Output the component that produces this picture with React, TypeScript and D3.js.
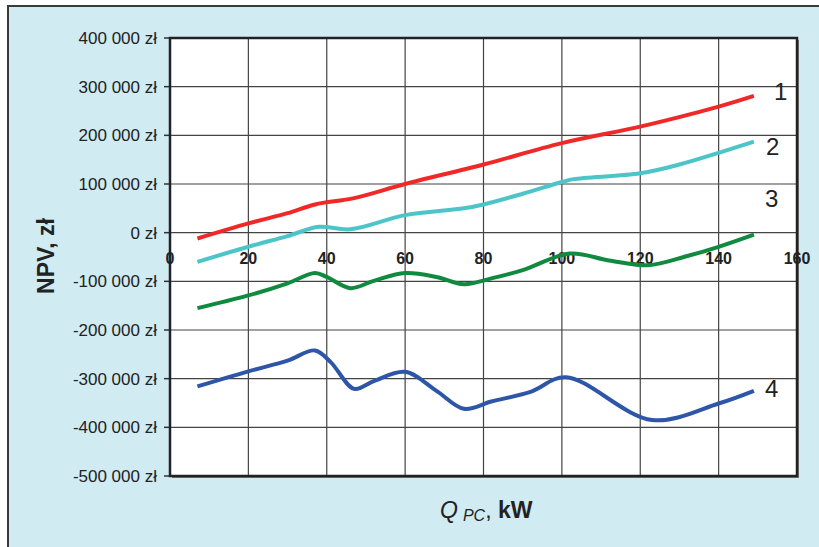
import React from "react";
import * as d3 from "d3";

// NPV [thousand zł] vs heat pump power Q_PC [kW]
const q1 = [7, 20, 30, 37, 47, 60, 80, 100, 120, 140, 149];
const npv1 = [-12, 19, 40, 58, 71, 100, 140, 184, 218, 259, 281];

const q2 = [7, 20, 30, 38, 46, 60, 75, 80, 90, 100, 103, 120, 130, 140, 149];
const npv2 = [-60, -29, -7, 12, 7, 36, 50, 58, 80, 104, 110, 122, 140, 164, 187];

const q3 = [7, 20, 30, 37, 40, 46, 52, 60, 68, 75, 82, 90, 102, 112, 122, 132, 140, 149];
const npv3 = [-155, -129, -104, -83, -91, -114, -99, -83, -91, -106, -94, -77, -43, -57, -67, -48, -29, -4];

const q4 = [7, 20, 30, 37, 41, 47, 52, 60, 68, 75, 82, 92, 101, 123, 140, 149];
const npv4 = [-316, -285, -263, -242, -266, -321, -305, -286, -325, -362, -347, -327, -297, -385, -351, -325];

const xTicks = [0, 20, 40, 60, 80, 100, 120, 140, 160];
const yTicks = [400, 300, 200, 100, 0, -100, -200, -300, -400, -500];
const seriesLabels = ["1", "2", "3", "4"];
const seriesColors = ["#f02828", "#4cc5c9", "#0f8a3e", "#2e56a8"];

const W = 819;
const H = 547;
const plot = { left: 170, top: 38, right: 797, bottom: 476 };

const x = d3.scaleLinear().domain([0, 160]).range([plot.left, plot.right]);
const y = d3.scaleLinear().domain([-500, 400]).range([plot.bottom, plot.top]);

const fmtY = (v: number) => {
  if (v === 0) return "0 zł";
  const s = d3.format(",")(v * 1000).replace(/,/g, " ").replace("\u2212", "-");
  return `${s} zł`;
};

const line = d3
  .line<[number, number]>()
  .x((d) => x(d[0]))
  .y((d) => y(d[1]))
  .curve(d3.curveCatmullRom.alpha(0.5));

const App = () => {
  const series = [
    { q: q1, v: npv1 },
    { q: q2, v: npv2 },
    { q: q3, v: npv3 },
    { q: q4, v: npv4 },
  ];
  // label positions next to series ends
  const labelY = [291, 178, 71, -319];
  const labelX = [774, 766, 765, 765];

  return (
    <svg
      width={W}
      height={H}
      style={{ position: "absolute", left: 0, top: 0 }}
      fontFamily="Arial, 'Liberation Sans', sans-serif"
    >
      <rect x={0} y={0} width={W} height={H} fill="#fff" />
      <rect x={8} y={6} width={W} height={H} fill="#d0ebf2" stroke="#3a3a3a" strokeWidth={2} />

      {/* plot area */}
      <rect
        x={plot.left + 2}
        y={plot.top + 2}
        width={plot.right - plot.left}
        height={plot.bottom - plot.top}
        fill="#777"
      />
      <rect
        x={plot.left}
        y={plot.top}
        width={plot.right - plot.left}
        height={plot.bottom - plot.top}
        fill="#fff"
      />

      {/* grid */}
      {yTicks.map((t) => (
        <line
          key={"gy" + t}
          x1={plot.left}
          x2={plot.right}
          y1={y(t)}
          y2={y(t)}
          stroke="#444"
          strokeWidth={1.2}
        />
      ))}
      {xTicks.map((t) => (
        <line
          key={"gx" + t}
          x1={x(t)}
          x2={x(t)}
          y1={plot.top}
          y2={plot.bottom}
          stroke="#444"
          strokeWidth={1.2}
        />
      ))}

      {/* y ticks */}
      {yTicks.map((t) => (
        <g key={"ty" + t}>
          <line x1={plot.left - 6} x2={plot.left} y1={y(t)} y2={y(t)} stroke="#333" strokeWidth={1.5} />
          <text x={157} y={y(t) + 6} textAnchor="end" fontSize={17} fill="#222">
            {fmtY(t)}
          </text>
        </g>
      ))}

      {/* x tick labels */}
      {xTicks.map((t) => (
        <text
          key={"tx" + t}
          x={x(t)}
          y={y(0) + 31}
          textAnchor="middle"
          fontSize={16}
          fontWeight="bold"
          fill="#222"
        >
          {t}
        </text>
      ))}

      {/* series */}
      {series.map((s, i) => (
        <path
          key={"s" + i}
          d={line(s.q.map((q, j) => [q, s.v[j]] as [number, number])) || ""}
          fill="none"
          stroke={seriesColors[i]}
          strokeWidth={4}
        />
      ))}

      {/* frame */}
      <rect
        x={plot.left}
        y={plot.top}
        width={plot.right - plot.left}
        height={plot.bottom - plot.top}
        fill="none"
        stroke="#222"
        strokeWidth={2.5}
      />

      {/* series labels */}
      {seriesLabels.map((l, i) => (
        <text key={"l" + i} x={labelX[i]} y={y(labelY[i]) + 9} fontSize={24} fill="#222">
          {l}
        </text>
      ))}

      {/* axis titles */}
      <text
        transform={`translate(54, 256) rotate(-90)`}
        textAnchor="middle"
        fontSize={23}
        fontWeight="bold"
        fill="#222"
      >
        NPV, zł
      </text>
      <text x={440} y={518} fontSize={23} fill="#222">
        <tspan fontStyle="italic">Q</tspan>
        <tspan fontStyle="italic" fontSize={16} dx={5} dy={3}>
          PC
        </tspan>
        <tspan dy={-3}>, </tspan>
        <tspan fontWeight="bold">kW</tspan>
      </text>
    </svg>
  );
};

export default App;
